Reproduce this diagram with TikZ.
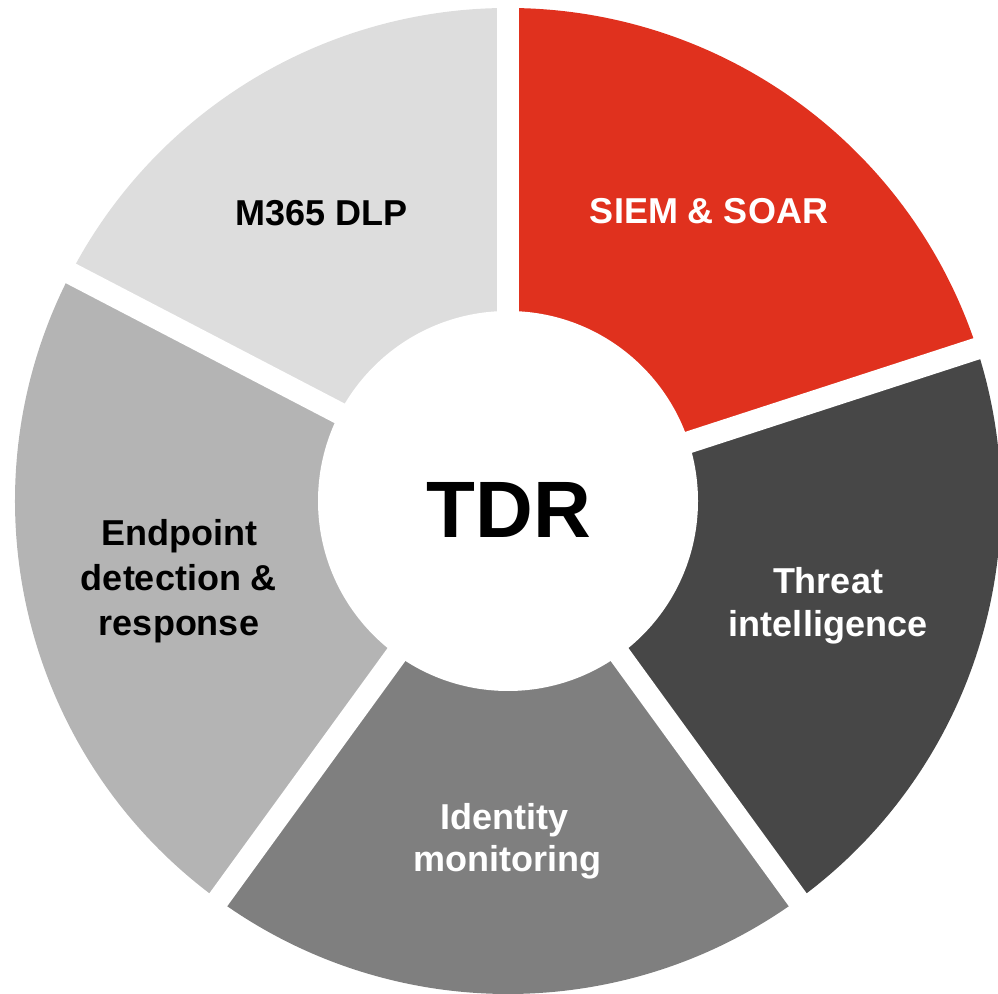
\documentclass[tikz,border=0pt]{standalone}
\usepackage{fontspec}
\setmainfont{Liberation Sans}
\definecolor{cSiem}{RGB}{224,49,30}
\definecolor{cThreat}{RGB}{71,71,71}
\definecolor{cIdent}{RGB}{127,127,127}
\definecolor{cEndp}{RGB}{180,180,180}
\definecolor{cDlp}{RGB}{221,221,221}
\begin{document}
\begin{tikzpicture}[x=0.75pt,y=0.75pt,
  lab/.style={font=\fontsize{27}{32}\selectfont\bfseries, anchor=base, inner sep=0pt}]
\useasboundingbox (0,0) rectangle (998,994);
\clip (0,0) rectangle (998,994);
\coordinate (c) at (508,493);
\fill[cSiem]   (c) -- ++(18:493)   arc[start angle=18,   end angle=90,  radius=493] -- cycle;
\fill[cThreat] (c) -- ++(-54:493)  arc[start angle=-54,  end angle=18,  radius=493] -- cycle;
\fill[cIdent]  (c) -- ++(-126:493) arc[start angle=-126, end angle=-54, radius=493] -- cycle;
\fill[cEndp]   (c) -- ++(152.5:493) arc[start angle=152.5, end angle=234, radius=493] -- cycle;
\fill[cDlp]    (c) -- ++(90:493)   arc[start angle=90,   end angle=152.5, radius=493] -- cycle;
\foreach \a in {90,18,-54,-126,152.5}
  \draw[white, line width=16.5pt] (c) -- ++(\a:560);
\node[circle, fill=white, minimum size=285pt, inner sep=0pt] (hub) at (c) {};
\node[font=\fontsize{60}{70}\selectfont\bfseries, anchor=base, inner sep=0pt] (tdr) at (509,456) {TDR};
\node[lab, text=white] (siem) at (709,770) {SIEM \& SOAR};
\node[lab] (dlp) at (322,768) {M365 DLP};
\node[lab, text=white] (threat1) at (828,400) {Threat};
\node[lab, text=white] (threat2) at (828,357) {intelligence};
\node[lab, text=white] (ident1) at (504,164) {Identity};
\node[lab, text=white] (ident2) at (507,122) {monitoring};
\node[lab] (endp1) at (179,448) {Endpoint};
\node[lab] (endp2) at (179,403) {detection \&};
\node[lab] (endp3) at (179,358) {response};
\end{tikzpicture}
\end{document}
